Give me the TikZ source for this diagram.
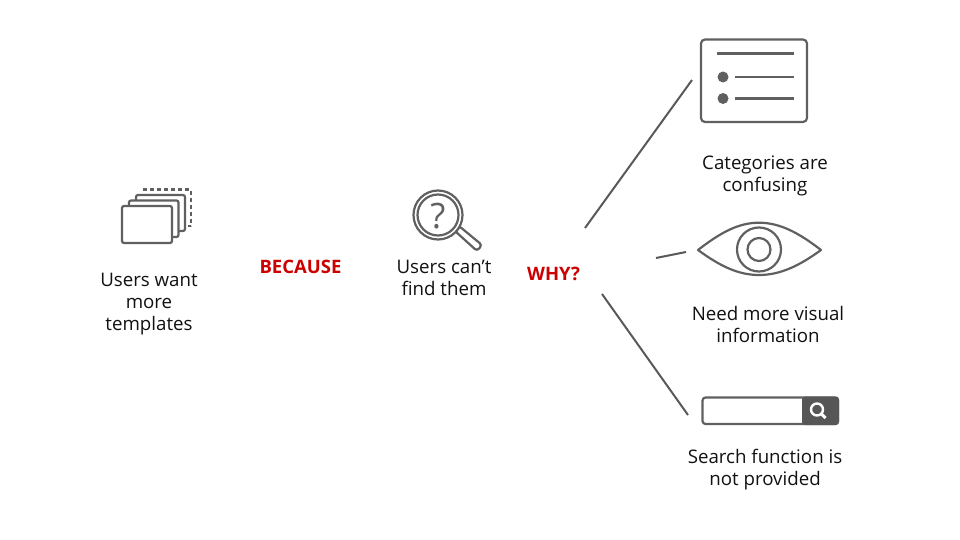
\documentclass[tikz,border=0pt]{standalone}
\usepackage{fontspec}
\setmainfont{Open Sans}
\definecolor{ic}{HTML}{606060}
\definecolor{ln}{HTML}{595959}
\definecolor{rd}{HTML}{CC0000}
\definecolor{tx}{HTML}{111111}
\tikzset{
  x=1pt,y=-1pt,
  lab/.style={align=center,text=tx,font=\fontsize{18.7}{22}\selectfont,inner sep=0pt},
  why/.style={text=rd,font=\fontsize{18.5}{22}\selectfont\bfseries,inner sep=0pt},
  icon/.style={draw=ic,line width=2.2pt,line join=round},
  conn/.style={draw=ln,line width=2pt},
}
\begin{document}
\begin{tikzpicture}
\useasboundingbox (0,0) rectangle (960,540);
% stack icon
\draw[icon,dash pattern=on 4pt off 3pt] (143,189.5) -- (191,189.5) -- (191,226) -- (185,226);
\draw[icon,rounded corners=2pt,fill=white] (136,231) -- (136,195) -- (185,195) -- (185,231) -- cycle;
\draw[icon,rounded corners=2pt,fill=white] (129,237) -- (129,200.5) -- (178.5,200.5) -- (178.5,237) -- cycle;
\draw[icon,rounded corners=2pt,fill=white] (122,206) rectangle (172,243);
\node[lab] (want) at (149,304.5) {Users want\\more\\templates};
\node[why] (because) at (300.5,266.5) {BECAUSE};
% magnifier
\draw[icon,rounded corners=3pt] (455,231) -- (459,226) -- (482,245) -- (477,251) -- cycle;
\draw[icon,fill=white] (438,215) circle (24.5);
\draw[icon] (438,215) circle (20.5);
\node[inner sep=0pt,text=ic,font=\fontsize{35}{35}\selectfont] (q) at (438,216) {?};
\node[lab] (find) at (444,277.5) {Users can’t\\find them};
\node[why] (whyq) at (553.5,273.5) {WHY?};
% list icon
\draw[icon,rounded corners=4pt] (701,39.5) rectangle (807,122);
\draw[icon] (717,53.5) -- (794,53.5);
\fill[ic] (723,77) circle (5.5) (723,98.5) circle (5.5);
\draw[icon] (735,77) -- (794,77);
\draw[icon] (735,98.5) -- (794,98.5);
\node[lab] (cat) at (765,176) {Categories are\\confusing};
% eye icon
\draw[icon] (698,250) .. controls (720,233) and (738,222.7) .. (759,222.7) .. controls (780,222.7) and (799,233) .. (821,250) .. controls (799,266) and (780,275) .. (759,275) .. controls (738,275) and (720,266) .. (698,250) -- cycle;
\draw[icon] (759,249.5) circle (22);
\draw[icon] (759,249.5) circle (11.5);
\node[lab] (vis) at (768,324.5) {Need more visual\\information};
% search icon
\draw[icon,rounded corners=3pt] (702.5,397.5) rectangle (838,424);
\fill[ic!90!black,rounded corners=3pt] (802,396.5) rectangle (839,425);
\draw[white,line width=2.4pt] (817,409.5) circle (6);
\draw[white,line width=3pt] (821.5,414) -- (825.5,418);
\node[lab] (srch) at (765,469.5) {Search function is\\not provided};
% connectors
\coordinate (a1) at (585,228); \coordinate (b1) at (692,80);
\coordinate (a2) at (656,258); \coordinate (b2) at (686,252);
\coordinate (a3) at (602,294); \coordinate (b3) at (688,415);
\draw[conn] (a1) -- (b1);
\draw[conn] (a2) -- (b2);
\draw[conn] (a3) -- (b3);
\end{tikzpicture}
\end{document}
